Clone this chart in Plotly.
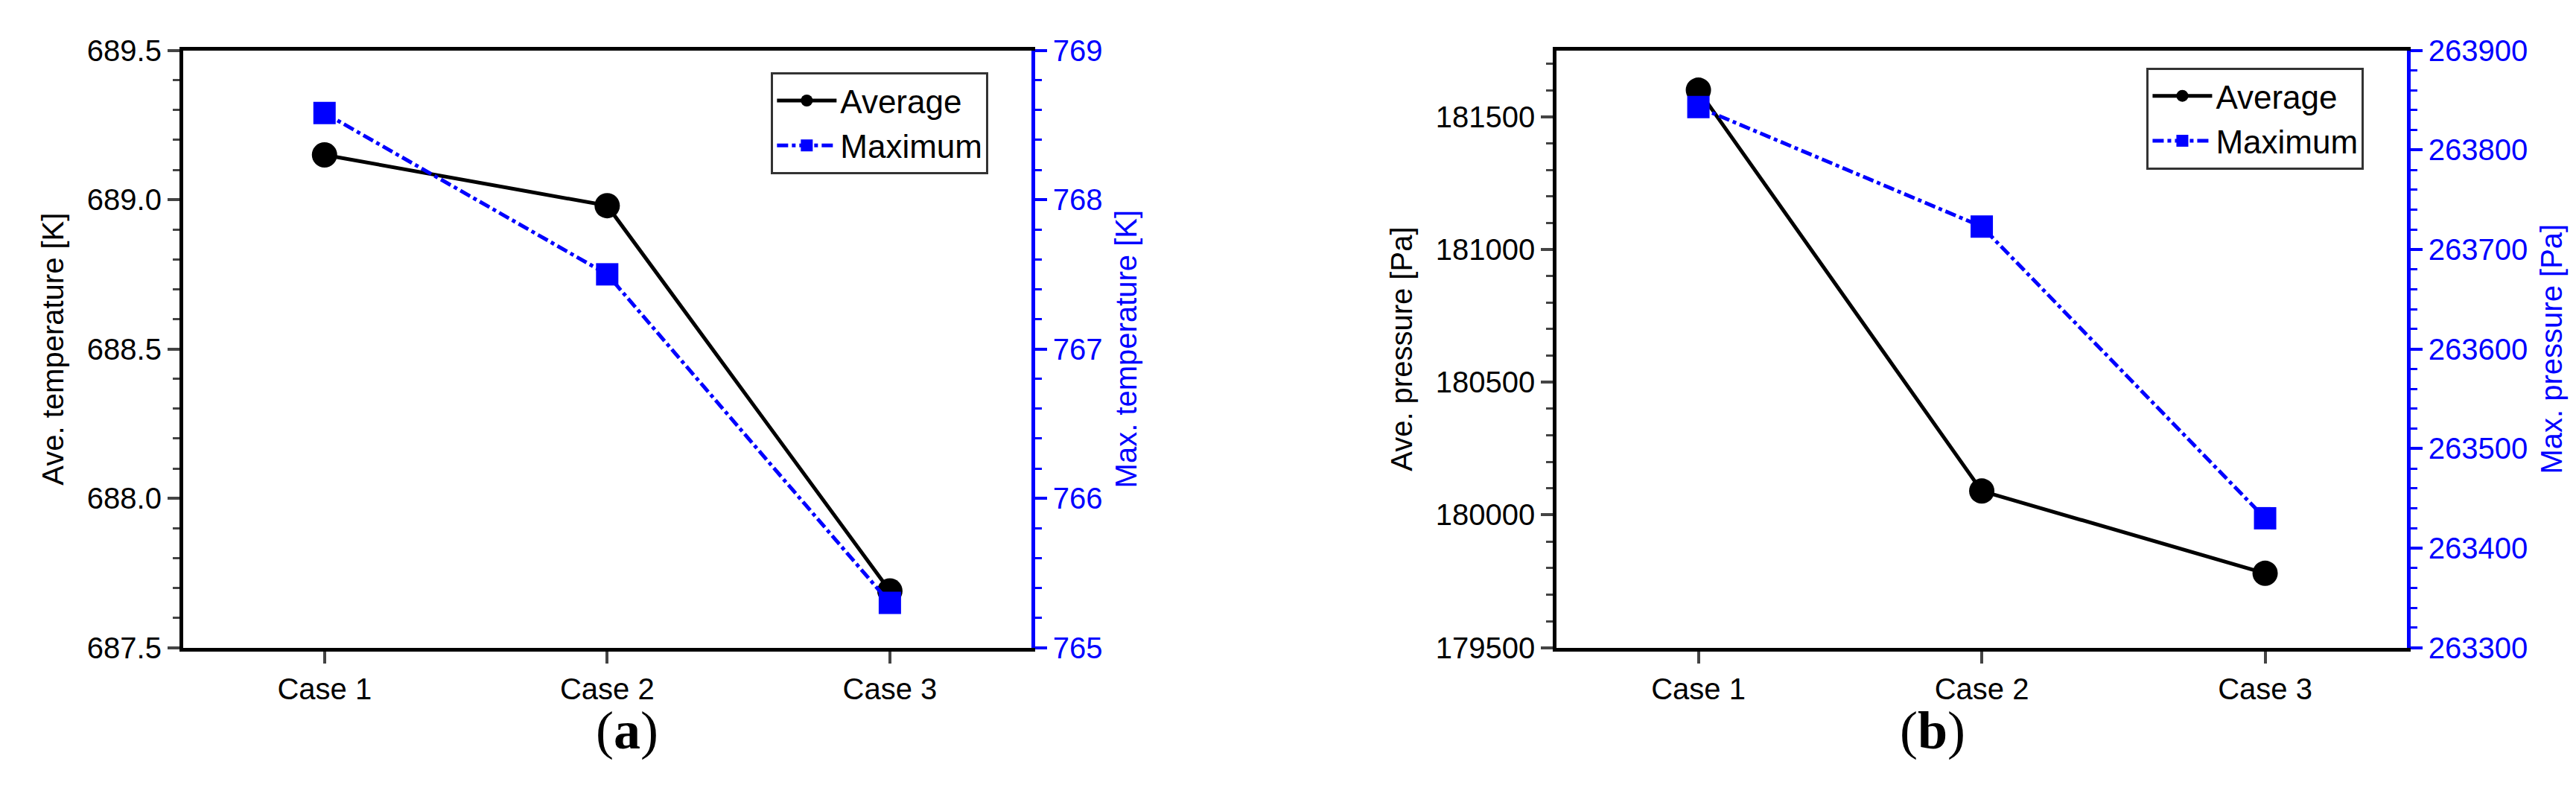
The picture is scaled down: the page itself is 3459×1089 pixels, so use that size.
import plotly.graph_objects as go

cases = ["Case 1", "Case 2", "Case 3"]

# (a) temperature
ave_temp = [689.15, 688.98, 687.69]
max_temp = [768.58, 767.50, 765.30]
# (b) pressure
ave_pres = [181600, 180090, 179780]
max_pres = [263843, 263723, 263430]

TICK_FONT = dict(family="Liberation Sans Narrow, Liberation Sans, Arial", size=40, color="black")
BLUE_TICK = dict(TICK_FONT, color="#0000ff")
TITLE_FONT = dict(family="Liberation Sans, Arial", size=40, color="black")

fig = go.Figure()

# 面板 (a)
fig.add_trace(go.Scatter(x=cases, y=ave_temp, name="Average", mode="lines+markers",
                         line=dict(color="black", width=5),
                         marker=dict(symbol="circle", size=34, color="black"),
                         xaxis="x", yaxis="y", legend="legend"))
fig.add_trace(go.Scatter(x=cases, y=max_temp, name="Maximum", mode="lines+markers",
                         line=dict(color="#0000ff", width=5, dash="dashdot"),
                         marker=dict(symbol="square", size=30, color="#0000ff"),
                         xaxis="x", yaxis="y2", legend="legend"))
# 面板 (b)
fig.add_trace(go.Scatter(x=cases, y=ave_pres, name="Average", mode="lines+markers",
                         line=dict(color="black", width=5),
                         marker=dict(symbol="circle", size=34, color="black"),
                         xaxis="x2", yaxis="y3", legend="legend2"))
fig.add_trace(go.Scatter(x=cases, y=max_pres, name="Maximum", mode="lines+markers",
                         line=dict(color="#0000ff", width=5, dash="dashdot"),
                         marker=dict(symbol="square", size=30, color="#0000ff"),
                         xaxis="x2", yaxis="y4", legend="legend2"))

xcommon = dict(showline=True, linecolor="black", linewidth=5, mirror=True,
               ticks="outside", ticklen=16, tickwidth=4, tickfont=TICK_FONT,
               showgrid=False, range=[-0.5, 2.5])
ydom = [0.1965, 0.964]


def yleft(rng, dtick, minor, title, fmt):
    return dict(domain=ydom, range=rng, dtick=dtick, tickformat=fmt, showline=True,
                linecolor="black", linewidth=5, ticks="outside", ticklen=16, tickwidth=4,
                tickfont=TICK_FONT,
                minor=dict(dtick=minor, ticks="outside", ticklen=9, tickwidth=3),
                showgrid=False, zeroline=False,
                title=dict(text=title, font=TITLE_FONT, standoff=20))


def yright(rng, dtick, minor, title, anchor, overlay, fmt):
    return dict(domain=ydom, range=rng, dtick=dtick, tickformat=fmt, showline=True,
                linecolor="#0000ff", linewidth=5, ticks="outside", ticklen=16, tickwidth=4,
                tickcolor="#0000ff", tickfont=BLUE_TICK, side="right",
                overlaying=overlay, anchor=anchor,
                minor=dict(dtick=minor, ticks="outside", ticklen=9, tickwidth=3, tickcolor="#0000ff"),
                showgrid=False, zeroline=False,
                title=dict(text=title, font=dict(TITLE_FONT, color="#0000ff"), standoff=20))


legend_style = dict(bgcolor="white", bordercolor="#333333", borderwidth=3,
                    font=dict(family="Liberation Sans Narrow, Liberation Sans", size=44, color="black"),
                    xanchor="left", yanchor="top", itemwidth=80, tracegroupgap=0)

fig.update_layout(
    width=3459, height=1089,
    margin=dict(l=0, r=0, t=0, b=0),
    plot_bgcolor="white", paper_bgcolor="white",
    showlegend=True,
    xaxis=dict(xcommon, domain=[0.0688, 0.398], anchor="y"),
    xaxis2=dict(xcommon, domain=[0.602, 0.932], anchor="y3"),
    yaxis=yleft([687.5, 689.5], 0.5, 0.1, "Ave. temperature [K]", ".1f"),
    yaxis2=yright([765, 769], 1, 0.2, "Max. temperature [K]", "x", "y", "d"),
    yaxis3=dict(yleft([179500, 181750], 500, 100, "Ave. pressure [Pa]", "d"), anchor="x2"),
    yaxis4=yright([263300, 263900], 100, 20, "Max. pressure [Pa]", "x2", "y3", "d"),
    legend=dict(legend_style, x=0.297, y=0.936),
    legend2=dict(legend_style, x=0.831, y=0.942),
    annotations=[
        dict(text="(<b>a</b>)", x=0.2284, y=0.05, xref="paper", yref="paper",
             showarrow=False, font=dict(family="Liberation Serif", size=72, color="black")),
        dict(text="(<b>b</b>)", x=0.7612, y=0.05, xref="paper", yref="paper",
             showarrow=False, font=dict(family="Liberation Serif", size=72, color="black")),
    ],
)

fig.write_html("out.html")
